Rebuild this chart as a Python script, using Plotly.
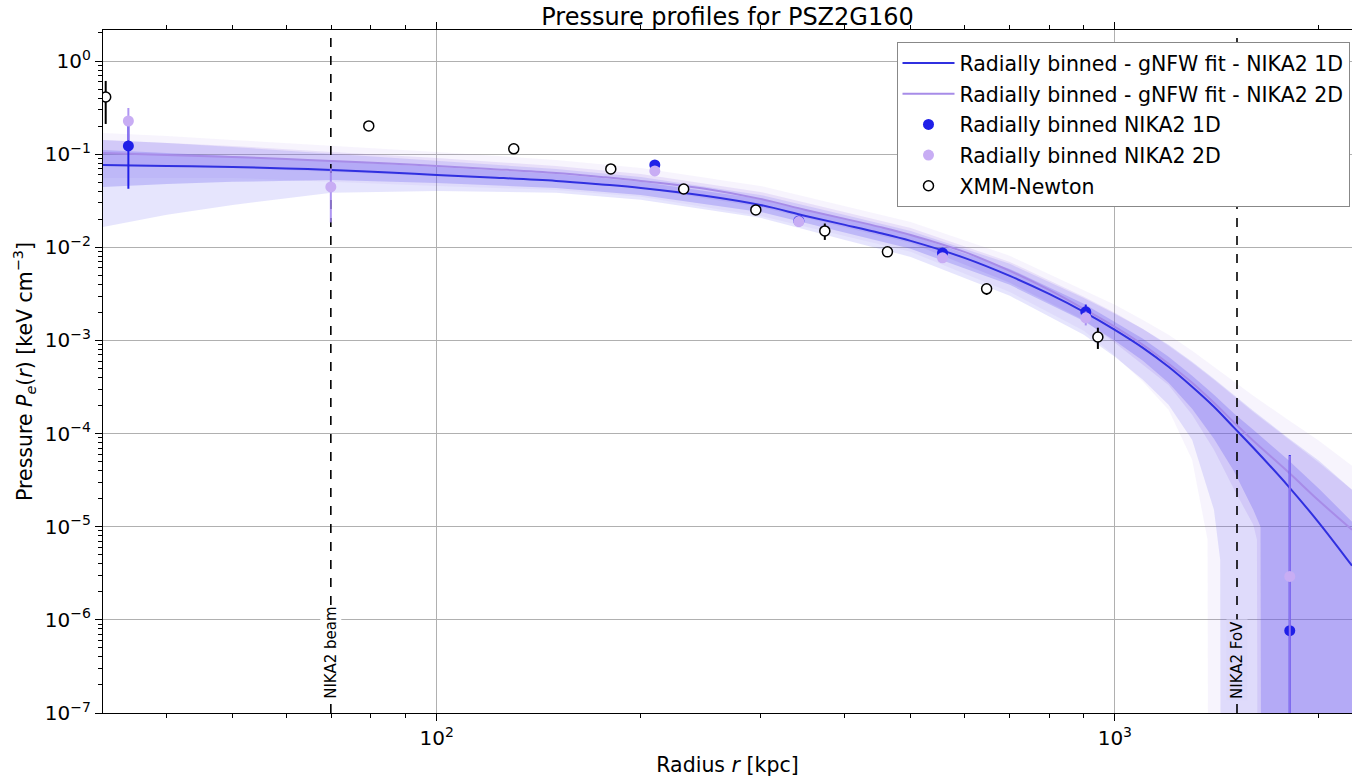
import plotly.graph_objects as go

# ---------------- data ----------------
# XMM-Newton deprojected pressure
xmm_r = [32.5, 79.4, 129.9, 180.6, 231.3, 295.5, 373.5, 462, 647, 944]
xmm_p = [0.411, 0.201, 0.114, 0.0694, 0.0423, 0.0252, 0.0150, 0.00893, 0.00358, 0.00109]
xmm_err = [0.20, 0.01, 0.005, 0.003, 0.005, 0.0015, 0.003, 0.0005, 0.0005, 0.00028]

# NIKA2 1D radially binned
n1_r = [35.1, 209.7, 342, 557, 906, 1811]
n1_p = [0.1225, 0.0766, 0.0192, 0.0087, 0.00203, 7.66e-7]
n1_err = [0.080, 0.006, 0.002, 0.0008, 0.0004, 5.8e-5]

# NIKA2 2D radially binned
n2_r = [35.1, 69.8, 209.7, 342, 557, 906, 1811]
n2_p = [0.227, 0.0445, 0.066, 0.0189, 0.0077, 0.00175, 2.93e-6]
n2_err = [0.086, 0.026, 0.005, 0.0015, 0.0007, 0.0003, 5.5e-5]

# gNFW best fits
line_r = [32.2, 40, 50, 60, 70, 85, 100, 120, 150, 175, 200, 250, 300, 350, 400, 450,
          500, 600, 700, 800, 900, 1000, 1100, 1200, 1300, 1400, 1500, 1600, 1800,
          2000, 2237]
fit1d = [0.0766, 0.0747, 0.0729, 0.0703, 0.0677, 0.0636, 0.0598, 0.0562, 0.0516,
         0.0473, 0.0434, 0.0356, 0.0285, 0.0217, 0.0174, 0.01427, 0.01171, 0.00770,
         0.00493, 0.00316, 0.00203, 0.00130, 8.33e-4, 5.21e-4, 3.18e-4, 1.94e-4,
         1.15e-4, 7.04e-5, 2.75e-5, 1.10e-5, 3.81e-6]
fit2d = [0.1030, 0.0980, 0.0933, 0.0888, 0.0845, 0.0795, 0.0747, 0.0694, 0.0629,
         0.0569, 0.0516, 0.0423, 0.0331, 0.0252, 0.0202, 0.01656, 0.01358, 0.00892,
         0.00558, 0.00349, 0.00218, 0.00140, 8.97e-4, 5.61e-4, 3.51e-4, 2.14e-4,
         1.31e-4, 8.37e-5, 3.89e-5, 1.90e-5, 9.29e-6]

# confidence bands, upper edges on band_r
band_r = [32.2, 40, 50, 70, 100, 150, 200, 300, 400, 500, 700, 900, 1000,
          1100, 1200, 1300, 1400, 1500, 1600, 1800, 2000, 2237]
up1d_68 = [0.1109, 0.1030, 0.0957, 0.0845, 0.0729, 0.0614, 0.0504, 0.0331, 0.0202,
           0.01358, 0.00586, 0.00247, 0.00158, 0.00104, 6.67e-4, 4.17e-4, 2.61e-4,
           1.63e-4, 1.10e-4, 5.24e-5, 2.56e-5, 1.13e-5]
up1d_95 = [0.1419, 0.1318, 0.1194, 0.1005, 0.0845, 0.0693, 0.0569, 0.0365, 0.02226,
           0.0150, 0.00664, 0.00286, 0.00193, 0.00133, 8.97e-4, 5.89e-4, 3.87e-4,
           2.55e-4, 1.76e-4, 9.0e-5, 5.1e-5, 2.49e-5]
up2d_68 = [0.1419, 0.1318, 0.1225, 0.1057, 0.0910, 0.0746, 0.0614, 0.0393, 0.02398,
           0.01614, 0.00697, 0.00294, 0.00198, 0.00133, 8.75e-4, 5.75e-4, 3.78e-4,
           2.48e-4, 1.71e-4, 8.79e-5, 4.86e-5, 2.49e-5]
up2d_95 = [0.1687, 0.1567, 0.1419, 0.1225, 0.1057, 0.0867, 0.0711, 0.0456, 0.0278,
           0.0187, 0.00809, 0.00349, 0.00241, 0.00166, 0.00115, 7.74e-4, 5.21e-4,
           3.60e-4, 2.54e-4, 1.41e-4, 8.37e-5, 4.51e-5]

# lower edges (they fall to zero beyond some radius)
lo1d_68_r = [32.2, 40, 50, 70, 100, 150, 200, 300, 400, 500, 700, 900, 1000,
             1100, 1200, 1300, 1400, 1500, 1600, 1640, 1648, 2237]
lo1d_68 = [0.0445, 0.0479, 0.0504, 0.0528, 0.0491, 0.0434, 0.0365, 0.0240, 0.01426,
           0.00962, 0.00395, 0.00162, 9.9e-4, 6.04e-4, 3.51e-4, 1.85e-4, 8.79e-5,
           3.89e-5, 1.52e-5, 1.0e-5, 1e-12, 1e-12]
lo1d_95_r = [32.2, 40, 50, 70, 100, 150, 200, 300, 400, 500, 700, 900, 1000,
             1100, 1200, 1300, 1400, 1430, 1436, 2237]
lo1d_95 = [0.01656, 0.0223, 0.0285, 0.0384, 0.0403, 0.0384, 0.0323, 0.0207, 0.0120,
           0.00789, 0.00301, 0.00115, 6.67e-4, 3.78e-4, 2.04e-4, 8.57e-5, 1.52e-5,
           4.43e-6, 1e-12, 1e-12]
lo2d_68_r = [32.2, 40, 50, 70, 100, 150, 200, 300, 400, 500, 700, 900, 1000,
             1100, 1200, 1300, 1400, 1500, 1600, 1620, 1628, 2237]
lo2d_68 = [0.0746, 0.0729, 0.0711, 0.0644, 0.0583, 0.0515, 0.0434, 0.0271, 0.01656,
           0.01114, 0.00415, 0.00166, 9.42e-4, 5.47e-4, 3.33e-4, 1.59e-4, 6.70e-5,
           2.49e-5, 1.05e-5, 7.24e-6, 1e-12, 1e-12]
lo2d_95_r = [32.2, 40, 50, 70, 100, 150, 200, 300, 400, 500, 700, 900, 1000,
             1100, 1200, 1300, 1370, 1376, 2237]
lo2d_95 = [0.0556, 0.0556, 0.0556, 0.0504, 0.0456, 0.0413, 0.0348, 0.0217, 0.01324,
           0.00893, 0.00332, 0.00127, 6.84e-4, 3.60e-4, 1.80e-4, 5.24e-5, 7.24e-6,
           1e-12, 1e-12]

beam_r = 69.8
fov_r = 1514

x_ticks = [100, 1000]
x_ticktext = ["10<sup>2</sup>", "10<sup>3</sup>"]
y_ticks = [1, 1e-1, 1e-2, 1e-3, 1e-4, 1e-5, 1e-6, 1e-7]
y_ticktext = ["10<sup>0</sup>", "10<sup>−1</sup>", "10<sup>−2</sup>", "10<sup>−3</sup>",
              "10<sup>−4</sup>", "10<sup>−5</sup>", "10<sup>−6</sup>", "10<sup>−7</sup>"]

# ---------------- figure ----------------
FONT = "DejaVu Sans"
BLUE = "#1f1fe8"
BLUE_LINE = "#3030e0"
PURPLE = "#c8adf4"
PURPLE_LINE = "#a78ce8"

fig = go.Figure()


def band(r_up, up, r_lo, lo, color):
    xs = list(r_up) + list(r_lo)[::-1]
    ys = list(up) + list(lo)[::-1]
    fig.add_trace(go.Scatter(x=xs, y=ys, fill="toself", fillcolor=color,
                             line=dict(width=0), mode="lines", hoverinfo="skip",
                             showlegend=False))


band(band_r, up2d_95, lo2d_95_r, lo2d_95, "rgba(150,110,230,0.08)")
band(band_r, up2d_68, lo2d_68_r, lo2d_68, "rgba(150,110,230,0.15)")
band(band_r, up1d_95, lo1d_95_r, lo1d_95, "rgba(90,80,240,0.15)")
band(band_r, up1d_68, lo1d_68_r, lo1d_68, "rgba(90,80,240,0.25)")

# vertical markers
for rr in (beam_r, fov_r):
    fig.add_trace(go.Scatter(x=[rr, rr], y=[1e-7, 2.2], mode="lines",
                             line=dict(color="black", width=1.6, dash="dash"),
                             hoverinfo="skip", showlegend=False))

fig.add_trace(go.Scatter(x=line_r, y=fit1d, mode="lines", line=dict(color=BLUE_LINE, width=2),
                         line_shape="spline", legendgroup="g1",
                         name="Radially binned - gNFW fit - NIKA2 1D"))
fig.add_trace(go.Scatter(x=line_r, y=fit2d, mode="lines", line=dict(color=PURPLE_LINE, width=2),
                         line_shape="spline", legendgroup="g2",
                         name="Radially binned - gNFW fit - NIKA2 2D"))


def minus(vals, errs):
    return [min(e, 0.9999 * v) for v, e in zip(vals, errs)]


fig.add_trace(go.Scatter(x=n1_r, y=n1_p, mode="markers", legendgroup="g3",
                         marker=dict(color=BLUE, size=11),
                         error_y=dict(type="data", array=n1_err, arrayminus=minus(n1_p, n1_err),
                                      color=BLUE, thickness=2, width=0),
                         name="Radially binned NIKA2 1D"))
fig.add_trace(go.Scatter(x=n2_r, y=n2_p, mode="markers", legendgroup="g4",
                         marker=dict(color=PURPLE, size=11),
                         error_y=dict(type="data", array=n2_err, arrayminus=minus(n2_p, n2_err),
                                      color="rgba(160,130,240,0.85)", thickness=2, width=0),
                         name="Radially binned NIKA2 2D"))
fig.add_trace(go.Scatter(x=xmm_r, y=xmm_p, mode="markers", legendgroup="g5",
                         marker=dict(color="white", size=10, line=dict(color="black", width=1.5)),
                         error_y=dict(type="data", array=xmm_err, arrayminus=minus(xmm_p, xmm_err),
                                      color="black", thickness=2, width=0),
                         name="XMM-Newton"))

fig.add_annotation(x=1.8438, y=-7, xref="x", yref="y", text="NIKA2 beam",
                   textangle=-90, showarrow=False, yanchor="bottom", yshift=12,
                   bgcolor="white", borderpad=1,
                   font=dict(family=FONT, size=15, color="black"))
fig.add_annotation(x=3.1801, y=-7, xref="x", yref="y", text="NIKA2 FoV",
                   textangle=-90, showarrow=False, yanchor="bottom", yshift=12,
                   bgcolor="#dcd8fa", borderpad=1,
                   font=dict(family=FONT, size=15, color="black"))

minor_x = [40, 50, 60, 70, 80, 90, 200, 300, 400, 500, 600, 700, 800, 900, 2000]
minor_y = []
for d in [1, 1e-1, 1e-2, 1e-3, 1e-4, 1e-5, 1e-6, 1e-7]:
    for k in range(2, 10):
        minor_y.append(k * d)

fig.update_layout(
    width=1352, height=777,
    margin=dict(l=103, r=0, t=30, b=64),
    paper_bgcolor="white", plot_bgcolor="white",
    font=dict(family=FONT, size=20, color="black"),
    title=dict(text="Pressure profiles for PSZ2G160", x=(103 + 1352) / 2 / 1352,
               xanchor="center", y=0.978, yanchor="middle",
               font=dict(family=FONT, size=24, color="black")),
    showlegend=True,
    legend=dict(x=0.998, y=0.982, xanchor="right", yanchor="top",
                bgcolor="white", bordercolor="#888888", borderwidth=1,
                font=dict(family=FONT, size=20.5, color="black"),
                itemwidth=52, tracegroupgap=1, traceorder="grouped"),
    xaxis=dict(type="log", range=[1.5079, 3.3497],
               tickvals=x_ticks, ticktext=x_ticktext,
               ticks="outside", ticklen=7, tickwidth=1, tickcolor="black",
               showline=True, linecolor="black", linewidth=1.3, mirror="allticks",
               showgrid=True, gridcolor="#b0b0b0", gridwidth=1, zeroline=False,
               minor=dict(tickvals=minor_x, ticks="outside", ticklen=4, tickcolor="black",
                          showgrid=False),
               tickfont=dict(family=FONT, size=20),
               title=dict(text="Radius <i>r</i> [kpc]", standoff=12,
                          font=dict(family=FONT, size=20.5))),
    yaxis=dict(type="log", range=[-7, 0.333],
               tickvals=y_ticks, ticktext=y_ticktext,
               ticks="outside", ticklen=7, tickwidth=1, tickcolor="black",
               showline=True, linecolor="black", linewidth=1.3,
               showgrid=True, gridcolor="#b0b0b0", gridwidth=1, zeroline=False,
               minor=dict(tickvals=minor_y, ticks="outside", ticklen=4, tickcolor="black",
                          showgrid=False),
               tickfont=dict(family=FONT, size=20),
               title=dict(text="Pressure <i>P</i><sub><i>e</i></sub>(<i>r</i>) [keV cm<sup>−3</sup>]",
                          standoff=6, font=dict(family=FONT, size=20.5))),
)

fig.write_html("out.html")
